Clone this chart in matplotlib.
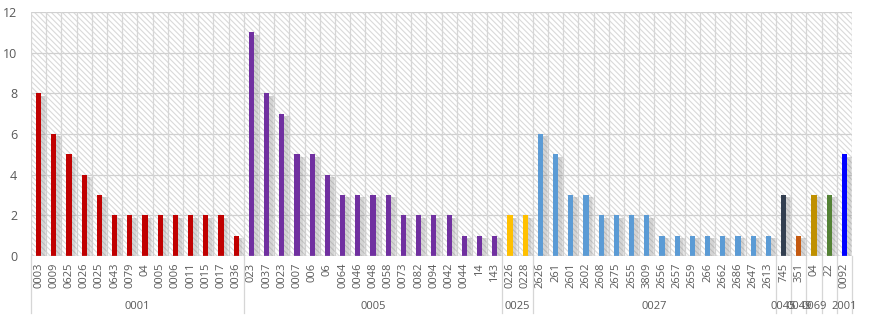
import numpy as np
import matplotlib
matplotlib.use("Agg")
import matplotlib.pyplot as plt
from matplotlib.patches import Rectangle
import matplotlib.transforms as mtransforms

plt.rcParams['font.family'] = ['Open Sans', 'DejaVu Sans']
plt.rcParams['hatch.color'] = '#d9d9d9'
plt.rcParams['hatch.linewidth'] = 0.8

# groups (outer level) and their items
groups = ["0001", "0005", "0025", "0027", "0045", "0049", "0069", "", "2001"]
group_items = [
    ["0003", "0009", "0625", "0026", "0025", "0643", "0079", "04", "0005", "0006",
     "0011", "0015", "0017", "0036"],
    ["023", "0037", "0023", "0007", "006", "06", "0064", "0046", "0048", "0058",
     "0073", "0082", "0094", "0042", "0044", "14", "143"],
    ["0226", "0228"],
    ["2626", "261", "2601", "2602", "2608", "2675", "2655", "3809", "2656", "2657",
     "2659", "266", "2662", "2686", "2647", "2613"],
    ["745"],
    ["351"],
    ["04"],
    ["22"],
    ["0092"],
]
group_values = [
    [8, 6, 5, 4, 3, 2, 2, 2, 2, 2, 2, 2, 2, 1],
    [11, 8, 7, 5, 5, 4, 3, 3, 3, 3, 2, 2, 2, 2, 1, 1, 1],
    [2, 2],
    [6, 5, 3, 3, 2, 2, 2, 2, 1, 1, 1, 1, 1, 1, 1, 1],
    [3],
    [1],
    [3],
    [3],
    [5],
]
group_colors = ["#C00000", "#7030A0", "#FFC000", "#5B9BD5", "#333F50",
                "#C55A11", "#BF9000", "#548235", "#0000FF"]

labels = [l for g in group_items for l in g]
values = [v for g in group_values for v in g]
colors = [c for g, c in zip(group_items, group_colors) for _ in g]
n = len(labels)
x = np.arange(n)

fig = plt.figure(figsize=(8.72, 3.30), dpi=100)
ax = fig.add_axes([31 / 872, 1 - 256 / 330, 821 / 872, 244 / 330])

# hatched background
ax.add_patch(Rectangle((0, 0), 1, 1, transform=ax.transAxes, facecolor='white',
                       edgecolor='#d9d9d9', hatch='\\\\\\\\\\\\', linewidth=0, zorder=0))

# grid
for yv in range(0, 13, 2):
    ax.axhline(yv, color='#d0d0d0', linewidth=0.9, zorder=1)
for xv in np.arange(-0.5, n, 1):
    ax.axvline(xv, color='#d6d6d6', linewidth=0.9, zorder=1)

# soft shadows
bw = 0.34
vals = np.array(values)
for k, a in [(0.36, 0.08), (0.28, 0.12), (0.2, 0.16)]:
    ax.bar(x + k, vals - 0.12, width=bw + 0.08, bottom=0,
           color='#7f7f7f', alpha=a, linewidth=0, zorder=2)
ax.bar(x, values, width=bw, color=colors, linewidth=0, zorder=3)

ax.set_xlim(-0.5, n - 0.5)
ax.set_ylim(0, 12)
ax.set_yticks(range(0, 13, 2))
ax.set_xticks(x)
ax.set_xticklabels(labels, rotation=90, fontsize=8, color='#595959')
ax.tick_params(axis='x', length=0, pad=5)
ax.tick_params(axis='y', length=0, pad=10, labelsize=9, labelcolor='#595959')
for s in ax.spines.values():
    s.set_visible(False)
ax.axhline(0, color='#d0d0d0', linewidth=0.9, zorder=4)

# group labels and separators
trans = mtransforms.blended_transform_factory(ax.transData, ax.transAxes)
start = 0
bounds = [-0.5]
for g, items in zip(groups, group_items):
    end = start + len(items)
    bounds.append(end - 0.5)
    if g:
        ax.text((start + end - 1) / 2, -0.205, g, transform=trans, ha='center',
                va='center', fontsize=8, color='#595959')
    start = end
for b in bounds:
    ax.plot([b, b], [0, -0.235], transform=trans, color='#d6d6d6',
            linewidth=0.9, clip_on=False)

fig.savefig("out.png", dpi=100)
